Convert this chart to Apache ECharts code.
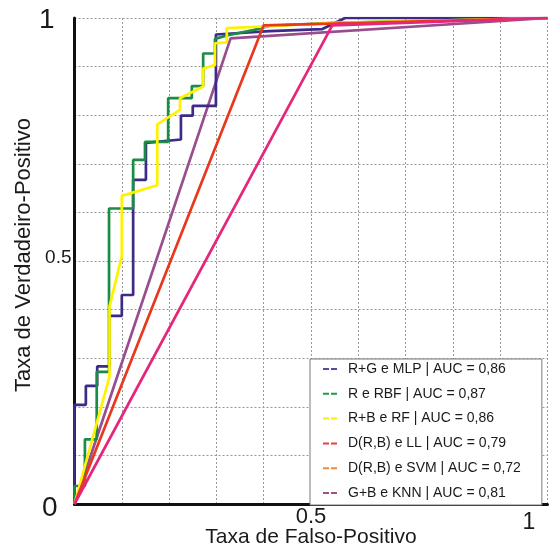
<!DOCTYPE html>
<html>
<head>
<meta charset="utf-8">
<script src="https://cdn.jsdelivr.net/npm/echarts@6/dist/echarts.min.js"></script>
<style>
  html, body { margin: 0; padding: 0; background: #fff; }
  #chart { width: 549px; height: 552px; }
</style>
</head>
<body>
<div id="chart"></div>
<script>
// curvas ROC: [falso-positivo, verdadeiro-positivo]
const names = [
  'R+G e MLP | AUC = 0,86',
  'R e RBF | AUC = 0,87',
  'R+B e RF | AUC = 0,86',
  'D(R,B) e LL | AUC = 0,79',
  'D(R,B) e SVM | AUC = 0,72',
  'G+B e KNN | AUC = 0,81'
];
const lineColors = ['#3d2b87', '#1b8c44', '#fff200', '#e8381f', '#e5277b', '#984d8f'];
const iconColors = ['#5a4a9c', '#1e9a4a', '#f5f000', '#e84040', '#f08a40', '#a0508e'];

const mlp = [[0, 0], [0, 0.204], [0.024, 0.204], [0.024, 0.243], [0.048, 0.243], [0.048, 0.283],
  [0.074, 0.283], [0.074, 0.387], [0.1, 0.387], [0.1, 0.43], [0.124, 0.43], [0.124, 0.667],
  [0.151, 0.667], [0.151, 0.743], [0.225, 0.75], [0.225, 0.799], [0.25, 0.799], [0.25, 0.819],
  [0.299, 0.819], [0.299, 0.966], [0.413, 0.973], [0.523, 0.977], [0.572, 1], [1, 1]];
const rbf = [[0, 0], [0, 0.037], [0.022, 0.037], [0.022, 0.133], [0.047, 0.133], [0.047, 0.272],
  [0.073, 0.272], [0.073, 0.608], [0.124, 0.608], [0.124, 0.708], [0.149, 0.708], [0.149, 0.745],
  [0.198, 0.745], [0.198, 0.835], [0.248, 0.835], [0.248, 0.86], [0.272, 0.86], [0.272, 0.927],
  [0.297, 0.927], [0.297, 0.957], [0.322, 0.964], [0.378, 0.975], [0.413, 0.984], [0.55, 0.99], [1, 1]];
const rf = [[0, 0], [0.074, 0.262], [0.074, 0.406], [0.1, 0.51], [0.1, 0.634], [0.175, 0.656],
  [0.175, 0.781], [0.223, 0.811], [0.223, 0.835], [0.272, 0.859], [0.272, 0.896], [0.297, 0.903],
  [0.297, 0.948], [0.322, 0.95], [0.322, 0.979], [0.413, 0.983], [0.55, 0.99], [1, 1]];
const ll = [[0, 0], [0.4, 0.985], [1, 1]];
const svm = [[0, 0], [0.545, 0.985], [1, 1]];
const knn = [[0, 0], [0.33, 0.958], [1, 1]];

const curves = [mlp, rbf, rf, ll, svm, knn];
const drawOrder = [5, 0, 1, 2, 3, 4];

const myChart = echarts.init(document.getElementById('chart'));

const series = drawOrder.map((i) => ({
  name: names[i],
  type: 'line',
  data: curves[i],
  symbol: 'none',
  lineStyle: { color: lineColors[i], width: 2.7 },
  itemStyle: { color: lineColors[i] },
  z: 2 + drawOrder.indexOf(i)
}));

const option = {
  backgroundColor: '#ffffff',
  animation: false,
  textStyle: { fontFamily: 'Liberation Sans, Arial, sans-serif' },
  grid: { left: 74.5, right: 1.5, top: 18, bottom: 48, containLabel: false, outerBoundsMode: 'none' },
  legend: {
    data: names.map((n, i) => ({ name: n, itemStyle: { color: iconColors[i] } })),
    orient: 'vertical',
    left: 310,
    top: 359,
    padding: [2, 21, 4, 13],
    itemGap: 8.8,
    itemWidth: 14,
    itemHeight: 2,
    icon: 'path://M0,0h6v2h-6z M8,0h6v2h-6z',
    itemStyle: { borderWidth: 0 },
    backgroundColor: '#ffffff',
    borderColor: '#7a7a7a',
    borderWidth: 1,
    borderRadius: 0,
    selectedMode: false,
    textStyle: {
      color: '#1a1a1a',
      fontSize: 14,
      lineHeight: 16,
      padding: [0, 0, 0, 6],
      fontFamily: 'Liberation Sans, Arial, sans-serif'
    }
  },
  xAxis: {
    type: 'value',
    min: 0,
    max: 1,
    interval: 0.1,
    name: 'Taxa de Falso-Positivo',
    nameLocation: 'middle',
    nameGap: 23,
    nameMoveOverlap: false,
    nameTextStyle: { fontSize: 21, color: '#1a1a1a' },
    axisLine: { show: true, onZero: false, lineStyle: { color: '#111', width: 3 } },
    axisTick: { show: false },
    splitLine: { show: true, lineStyle: { color: '#999', width: 1, type: [2, 2] } },
    axisLabel: {
      margin: 2,
      color: '#1a1a1a',
      formatter: (v) => {
        if (Math.abs(v - 0.5) < 1e-6) return '{m|0.5}';
        if (Math.abs(v - 1) < 1e-6) return '{e|1}';
        return '';
      },
      rich: {
        m: { fontSize: 22, lineHeight: 22 },
        e: { fontSize: 23, lineHeight: 23, padding: [11, 37, 0, 0] }
      }
    }
  },
  yAxis: {
    type: 'value',
    min: 0,
    max: 1,
    interval: 0.1,
    name: 'Taxa de Verdadeiro-Positivo',
    nameLocation: 'middle',
    nameGap: 40,
    nameMoveOverlap: false,
    nameTextStyle: { fontSize: 22, color: '#1a1a1a', padding: [0, 0, 0, 12] },
    axisLine: { show: true, onZero: false, lineStyle: { color: '#111', width: 3 } },
    axisTick: { show: false },
    splitLine: { show: true, lineStyle: { color: '#999', width: 1, type: [2, 2] } },
    axisLabel: {
      margin: 3,
      color: '#1a1a1a',
      formatter: (v) => {
        if (Math.abs(v) < 1e-6) return '{z|0}';
        if (Math.abs(v - 0.5) < 1e-6) return '{m|0.5}';
        if (Math.abs(v - 1) < 1e-6) return '{b|1}';
        return '';
      },
      rich: {
        b: { fontSize: 28, lineHeight: 28, padding: [4, 17, 0, 0] },
        z: { fontSize: 28, lineHeight: 28, padding: [8, 14, 0, 0] },
        m: { fontSize: 19, lineHeight: 19, padding: [0, 0, 6, 0] }
      }
    }
  },
  series: series
};

myChart.setOption(option);
</script>
</body>
</html>
